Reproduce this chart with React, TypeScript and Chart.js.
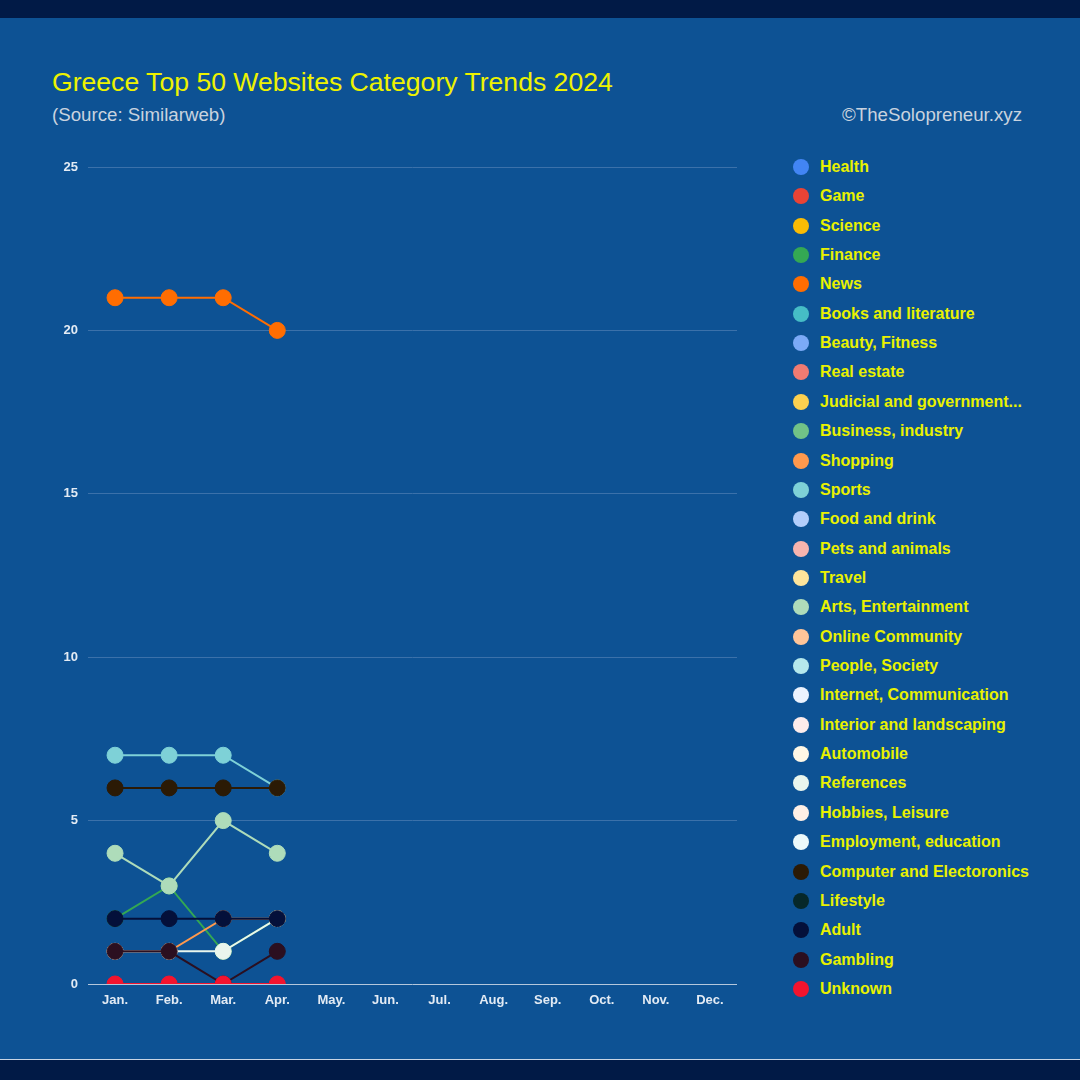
import React, { useEffect, useRef } from "react";
import { Chart, registerables } from "chart.js";

Chart.register(...registerables);

const months = ["Jan.", "Feb.", "Mar.", "Apr.", "May.", "Jun.", "Jul.", "Aug.", "Sep.", "Oct.", "Nov.", "Dec."];

const categories = [
  "Health", "Game", "Science", "Finance", "News", "Books and literature", "Beauty, Fitness",
  "Real estate", "Judicial and government...", "Business, industry", "Shopping", "Sports",
  "Food and drink", "Pets and animals", "Travel", "Arts, Entertainment", "Online Community",
  "People, Society", "Internet, Communication", "Interior and landscaping", "Automobile",
  "References", "Hobbies, Leisure", "Employment, education", "Computer and Electoronics",
  "Lifestyle", "Adult", "Gambling", "Unknown",
];

const colors = [
  "#4285f4", "#ea4335", "#fbbc04", "#34a853", "#ff6d01", "#46bdc6", "#7baaf7",
  "#f07b72", "#fcd04f", "#71c287", "#ff994d", "#7ed1d7",
  "#b3cefb", "#f7b4ae", "#fde49b", "#aedcba", "#ffc599",
  "#b5e8ec", "#ecf3fe", "#fdeceb", "#fff8e6",
  "#eaf6ed", "#fff0e6", "#ecf9fa", "#2b1a05",
  "#06282a", "#04103a", "#2b0f20", "#f3142e",
];

// ranking counts per month (Jan..Apr); empty = no visible data
const health: number[] = [];
const game: number[] = [];
const science: number[] = [];
const finance = [2, 3, 1, 2];
const news = [21, 21, 21, 20];
const books: number[] = [];
const beauty: number[] = [];
const realEstate: number[] = [];
const judicial: number[] = [];
const business: number[] = [];
const shopping = [1, 1, 2, 2];
const sports = [7, 7, 7, 6];
const food: number[] = [];
const pets: number[] = [];
const travel: number[] = [];
const arts = [4, 3, 5, 4];
const onlineCommunity: number[] = [];
const people: number[] = [];
const internet: number[] = [];
const interior: number[] = [];
const automobile: number[] = [];
const references = [1, 1, 1, 2];
const hobbies: number[] = [];
const employment: number[] = [];
const computer = [6, 6, 6, 6];
const lifestyle: number[] = [];
const adult = [2, 2, 2, 2];
const gambling = [1, 1, 0, 1];
const unknown = [0, 0, 0, 0];

const seriesValues = [
  health, game, science, finance, news, books, beauty, realEstate, judicial, business,
  shopping, sports, food, pets, travel, arts, onlineCommunity, people, internet, interior,
  automobile, references, hobbies, employment, computer, lifestyle, adult, gambling, unknown,
];

const yTicks = [0, 5, 10, 15, 20, 25];

const sans = "'Liberation Sans', Arial, sans-serif";

export default function App() {
  const canvasRef = useRef<HTMLCanvasElement | null>(null);

  useEffect(() => {
    if (!canvasRef.current) return;
    const chart = new Chart(canvasRef.current, {
      type: "line",
      data: {
        labels: months,
        datasets: categories.map((name, i) => ({
          label: name,
          data: seriesValues[i],
          order: -i,
          borderColor: colors[i],
          backgroundColor: colors[i],
          pointBackgroundColor: colors[i],
          pointBorderColor: colors[i],
          pointRadius: 8,
          pointBorderWidth: 1,
          pointHoverRadius: 8,
          borderWidth: 2,
          tension: 0,
          clip: 0,
        })),
      },
      options: {
        responsive: false,
        animation: false,
        events: [],
        layout: { padding: { left: 48, right: 23, top: 27, bottom: 0 } },
        plugins: {
          legend: { display: false },
          tooltip: { enabled: false },
          title: { display: false },
        },
        scales: {
          x: {
            type: "category",
            offset: true,
            grid: { display: false, drawTicks: false },
            border: { display: false },
            ticks: {
              color: "#e3ebf4",
              padding: 9,
              font: { family: sans, size: 13, weight: "bold" },
              maxRotation: 0,
              autoSkip: false,
            },
            afterFit: (scale: any) => {
              scale.height = 26;
            },
          },
          y: {
            min: 0,
            max: 25,
            afterBuildTicks: (scale: any) => {
              scale.ticks = yTicks.map((v) => ({ value: v }));
            },
            grid: {
              drawTicks: false,
              lineWidth: 1,
              color: (ctx: any) => (ctx.tick && ctx.tick.value === 0 ? "#b4c7dc" : "#3b71aa"),
            },
            border: { display: false },
            ticks: {
              color: "#e3ebf4",
              padding: 10,
              font: { family: sans, size: 13, weight: "bold" },
            },
            afterFit: (scale: any) => {
              scale.width = 40;
            },
          },
        },
      },
    });
    return () => chart.destroy();
  }, []);

  return (
    <div
      style={{
        position: "absolute",
        left: 0,
        top: 0,
        width: 1080,
        height: 1080,
        background: "#0d5294",
        overflow: "hidden",
      }}
    >
      <div style={{ position: "absolute", left: 0, top: 0, width: 1080, height: 18, background: "#011a46" }} />
      <div style={{ position: "absolute", left: 0, top: 1059, width: 1080, height: 1, background: "#c9d5e4" }} />
      <div style={{ position: "absolute", left: 0, top: 1060, width: 1080, height: 20, background: "#011a46" }} />

      <div
        style={{
          position: "absolute",
          left: 52,
          top: 67,
          fontFamily: sans,
          fontSize: 26.6,
          lineHeight: "30px",
          color: "#eef200",
          whiteSpace: "nowrap",
        }}
      >
        Greece Top 50 Websites Category Trends 2024
      </div>
      <div
        style={{
          position: "absolute",
          left: 52,
          top: 104,
          fontFamily: sans,
          fontSize: 18.7,
          lineHeight: "22px",
          color: "#c9d3df",
          whiteSpace: "nowrap",
        }}
      >
        (Source: Similarweb)
      </div>
      <div
        style={{
          position: "absolute",
          right: 58,
          top: 104,
          fontFamily: sans,
          fontSize: 18.7,
          lineHeight: "22px",
          color: "#c9d3df",
          whiteSpace: "nowrap",
        }}
      >
        ©TheSolopreneur.xyz
      </div>

      <canvas
        ref={canvasRef}
        width={760}
        height={870}
        style={{ position: "absolute", left: 0, top: 140, width: 760, height: 870 }}
      />

      {categories.map((name, i) => (
        <div
          key={name}
          style={{
            position: "absolute",
            left: 793,
            top: 167 + i * 29.357 - 10,
            height: 20,
            display: "flex",
            alignItems: "center",
            whiteSpace: "nowrap",
          }}
        >
          <div
            style={{
              width: 16,
              height: 16,
              borderRadius: 8,
              background: colors[i],
              marginRight: 11,
              flexShrink: 0,
            }}
          />
          <span
            style={{
              fontFamily: sans,
              fontWeight: "bold",
              fontSize: 16,
              color: "#e9f100",
            }}
          >
            {name}
          </span>
        </div>
      ))}
    </div>
  );
}
